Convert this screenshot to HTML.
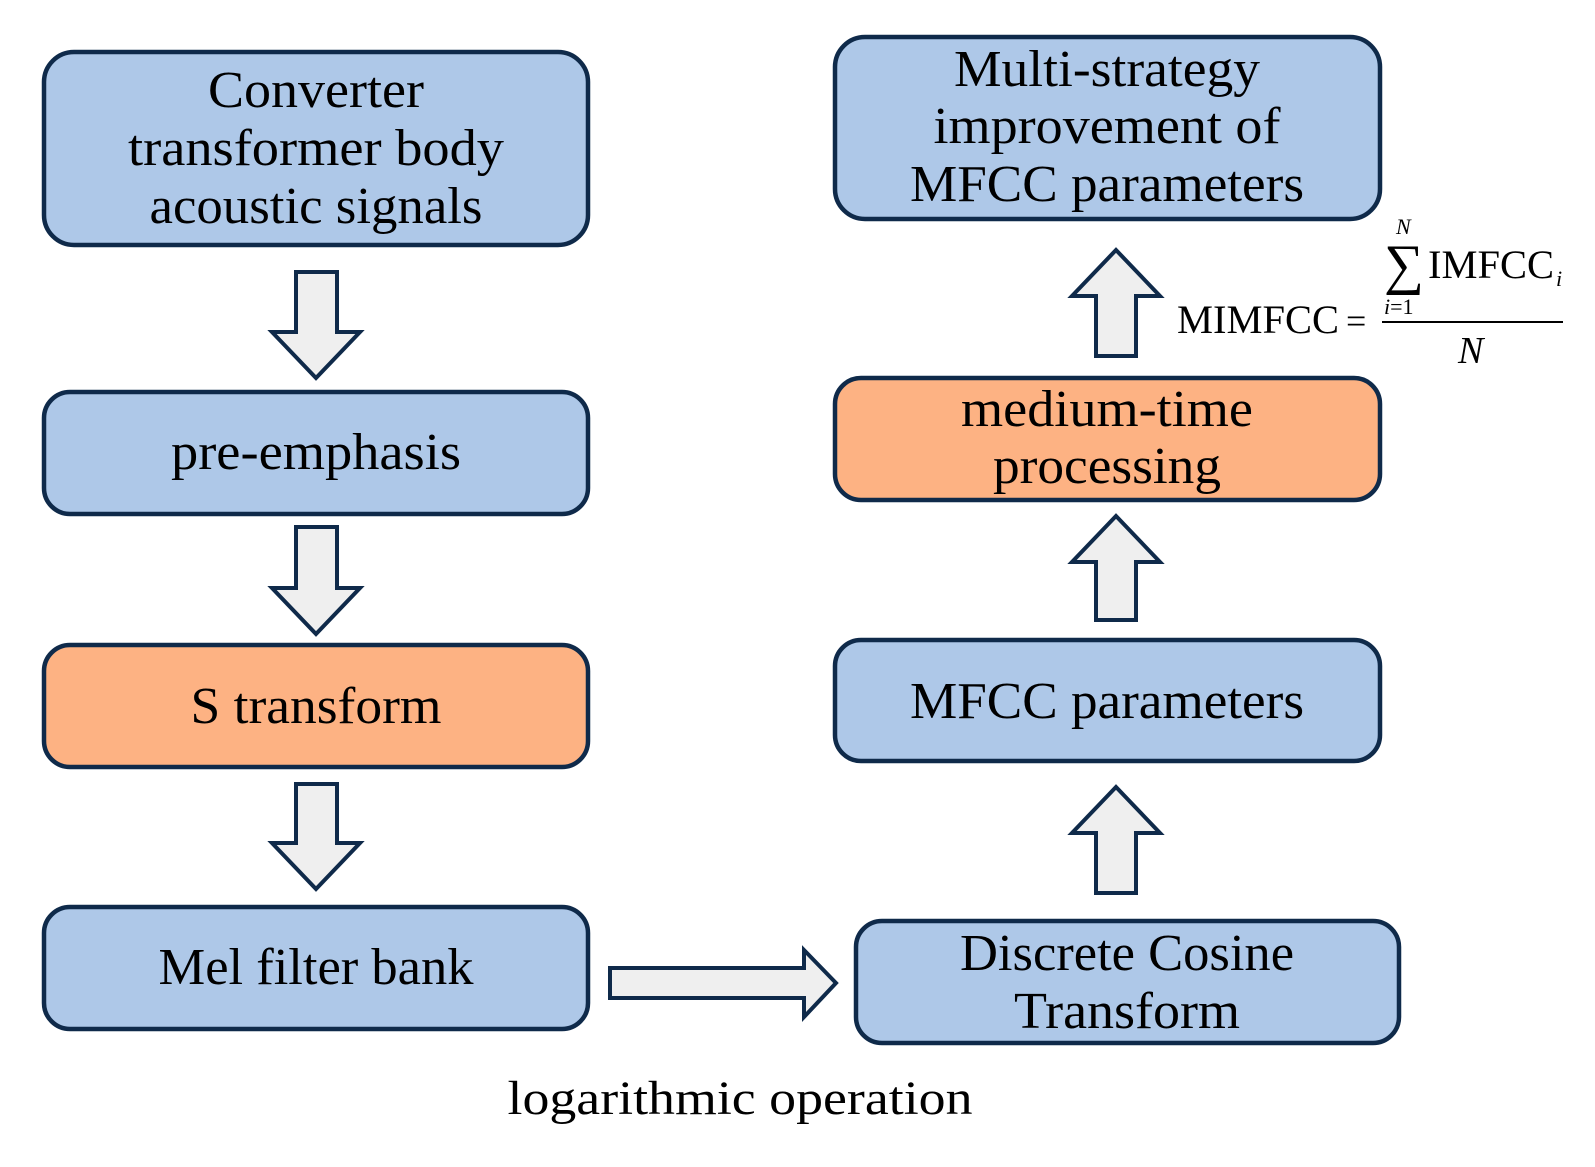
<!DOCTYPE html>
<html><head><meta charset="utf-8"><style>html,body{margin:0;padding:0;background:#fff}svg{display:block}</style></head>
<body>
<svg width="1595" height="1167" viewBox="0 0 1595 1167" xmlns="http://www.w3.org/2000/svg" font-family="'Liberation Serif', serif" fill="#000">
<g stroke="#0f2a4a" stroke-width="4.5">
<rect x="44" y="52" width="544" height="193" rx="30" fill="#aec8e8"/>
<rect x="44" y="392" width="544" height="122" rx="26" fill="#aec8e8"/>
<rect x="44" y="645" width="544" height="122" rx="26" fill="#fdb283"/>
<rect x="44" y="907" width="544" height="122" rx="26" fill="#aec8e8"/>
<rect x="835" y="37" width="545" height="182" rx="30" fill="#aec8e8"/>
<rect x="835" y="378" width="545" height="122" rx="26" fill="#fdb283"/>
<rect x="835" y="640" width="545" height="121" rx="26" fill="#aec8e8"/>
<rect x="856" y="921" width="543" height="122" rx="26" fill="#aec8e8"/>
<g fill="#efefef" stroke-width="4">
<polygon points="296,272 337,272 337,332 360,332 316,378 272,332 296,332"/>
<polygon points="296,527 337,527 337,588 360,588 316,634 272,588 296,588"/>
<polygon points="296,784 337,784 337,843 360,843 316,889 272,843 296,843"/>
<polygon points="1096,356 1136,356 1136,296 1160,296 1116,250 1072,296 1096,296"/>
<polygon points="1096,620 1136,620 1136,562 1160,562 1116,516 1072,562 1096,562"/>
<polygon points="1096,893 1136,893 1136,833 1160,833 1116,787 1072,833 1096,833"/>
<polygon points="610,968 804,968 804,950 836,983 804,1017 804,998 610,998"/>
</g>
</g>
<g font-size="52" text-anchor="middle">
<text x="316" y="107" textLength="216" lengthAdjust="spacingAndGlyphs">Converter</text>
<text x="316" y="165" textLength="376" lengthAdjust="spacingAndGlyphs">transformer body</text>
<text x="316" y="223" textLength="333" lengthAdjust="spacingAndGlyphs">acoustic signals</text>
<text x="316" y="469" textLength="290" lengthAdjust="spacingAndGlyphs">pre-emphasis</text>
<text x="316" y="723" textLength="251" lengthAdjust="spacingAndGlyphs">S transform</text>
<text x="316" y="984" textLength="315" lengthAdjust="spacingAndGlyphs">Mel filter bank</text>
<text x="1107" y="86" textLength="306" lengthAdjust="spacingAndGlyphs">Multi-strategy</text>
<text x="1107" y="143" textLength="347" lengthAdjust="spacingAndGlyphs">improvement of</text>
<text x="1107" y="201" textLength="394" lengthAdjust="spacingAndGlyphs">MFCC parameters</text>
<text x="1107" y="426" textLength="292" lengthAdjust="spacingAndGlyphs">medium-time</text>
<text x="1107" y="483" textLength="228" lengthAdjust="spacingAndGlyphs">processing</text>
<text x="1107" y="718" textLength="394" lengthAdjust="spacingAndGlyphs">MFCC parameters</text>
<text x="1127" y="970" textLength="334" lengthAdjust="spacingAndGlyphs">Discrete Cosine</text>
<text x="1127" y="1028" textLength="226" lengthAdjust="spacingAndGlyphs">Transform</text>
<text x="740" y="1114" font-size="48" textLength="465" lengthAdjust="spacingAndGlyphs">logarithmic operation</text>
</g>
<text x="1177" y="333" font-size="40" textLength="162" lengthAdjust="spacingAndGlyphs">MIMFCC</text>
<text x="1346" y="333" font-size="36">=</text>
<line x1="1382" y1="322" x2="1563" y2="322" stroke="#000" stroke-width="2"/>
<text x="1384" y="283" font-size="56">∑</text>
<text x="1396" y="234" font-size="22" font-style="italic">N</text>
<text x="1384" y="314" font-size="22"><tspan font-style="italic">i</tspan>=1</text>
<text x="1428" y="278" font-size="40" textLength="126" lengthAdjust="spacingAndGlyphs">IMFCC</text>
<text x="1556" y="286" font-size="22" font-style="italic">i</text>
<text x="1458" y="363" font-size="38" font-style="italic">N</text>
</svg>
</body></html>
